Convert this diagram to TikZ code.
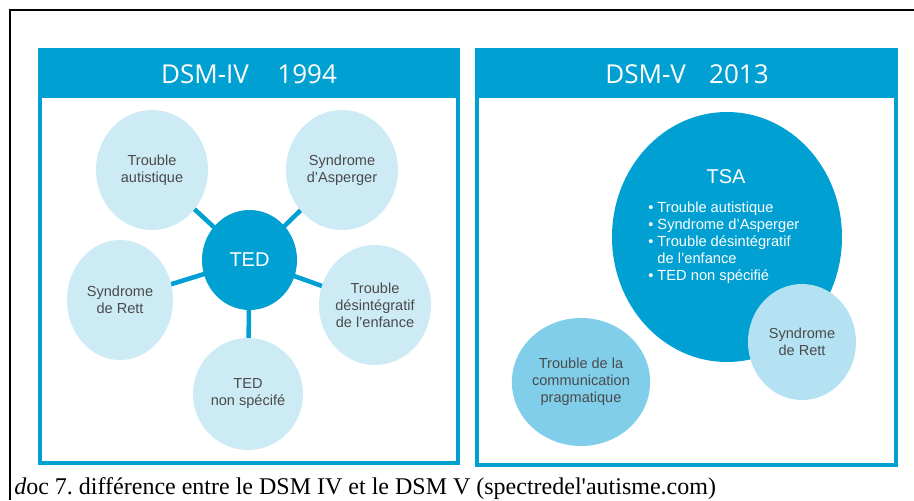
\documentclass[tikz,border=0pt]{standalone}
\usepackage{fontspec}
\setmainfont{Liberation Sans}
\newfontfamily\headfont{Open Sans}
\newfontfamily\capfont{Liberation Serif}
\usetikzlibrary{shapes.geometric,backgrounds}
\definecolor{dsmblue}{HTML}{00A0D3}
\definecolor{lightc}{HTML}{CDEBF5}
\definecolor{midc}{HTML}{80CEEA}
\definecolor{rettc}{HTML}{B4E2F3}
\definecolor{txtgray}{HTML}{4A4A4A}
\frenchspacing
\begin{document}
\begin{tikzpicture}[x=0.75pt,y=-0.75pt,
  sz/.style 2 args={minimum width=#1*0.75pt,minimum height=#2*0.75pt},
  bubble/.style={ellipse,inner sep=0pt,align=center,text=txtgray,font=\fontsize{10.9}{12.75}\selectfont},
  light/.style={bubble,fill=lightc},
  conn/.style={draw=dsmblue,line width=3.4pt},
  header/.style={text=white,font=\headfont\fontsize{19.5}{22}\selectfont},
  bigtxt/.style={text=white,font=\fontsize{15}{18}\selectfont},
  frameline/.style={draw=black,line width=2pt}
]
\useasboundingbox (0,0) rectangle (914,500);
\begin{scope}[on background layer]
  \fill[white] (0,0) rectangle (914,500);
  % left panel
  \fill[dsmblue] (38,48) rectangle (460,465);
  \fill[white] (42,98) rectangle (456,461);
  % right panel
  \fill[dsmblue] (475,48) rectangle (898,467);
  \fill[white] (479,98) rectangle (894,463);
\end{scope}
\draw[frameline] (9,10) -- (914,10);
\draw[frameline] (10,9) -- (10,500);

% headers
\node[header] (h1) at (249,74) {DSM-IV\hspace{1.1em}1994};
\node[header] (h2) at (687,74) {DSM-V\hspace{0.9em}2013};

% left diagram
\node[bubble,fill=dsmblue,sz={95}{100},bigtxt] (ted) at (249.5,260) {TED};
\node[light,sz={112}{120}] (ta) at (152,170) {Trouble\\autistique};
\node[light,sz={112}{120}] (sa) at (342,170) {Syndrome\\d’Asperger};
\node[light,sz={106}{120}] (sr) at (120,300) {Syndrome\\de Rett};
\node[light,sz={106}{120}] (td) at (375,305) {Trouble\\désintégratif\\de l’enfance};
\node[light,sz={110}{112}] (tn) at (248,394) {TED\\non spécifé};
\begin{scope}[on background layer]
  \draw[conn] (ted.center) -- (ta.center);
  \draw[conn] (ted.center) -- (sa.center);
  \draw[conn] (ted.center) -- (sr.center);
  \draw[conn] (ted.center) -- (td.center);
  \draw[conn] (ted.center) -- (tn.center);
\end{scope}

% right diagram
\node[ellipse,fill=dsmblue,inner sep=0pt,sz={230}{250}] (tsa) at (727,237) {};
\node[bigtxt,anchor=base] (tsat) at (726,183) {TSA};
\node[anchor=north west,inner sep=0pt,align=left,text=white,font=\fontsize{11}{12.75}\selectfont] (tsal) at (648,202)
  {• Trouble autistique\\• Syndrome d’Asperger\\• Trouble désintégratif\\\phantom{• }de l’enfance\\• TED non spécifié};
\node[bubble,fill=rettc,sz={108}{116}] (rett) at (802,342) {Syndrome\\de Rett};
\node[bubble,fill=midc,sz={118}{128}] (comm) at (581,382) {Trouble de la\\communication\\pragmatique};

% caption
\node[anchor=base west,inner sep=0pt,font=\capfont\fontsize{18}{20}\selectfont] (cap) at (14,494)
  {\textit{d}oc 7. différence entre le DSM IV et le DSM V (spectredel{\char"27}autisme.com)};
\end{tikzpicture}
\end{document}
